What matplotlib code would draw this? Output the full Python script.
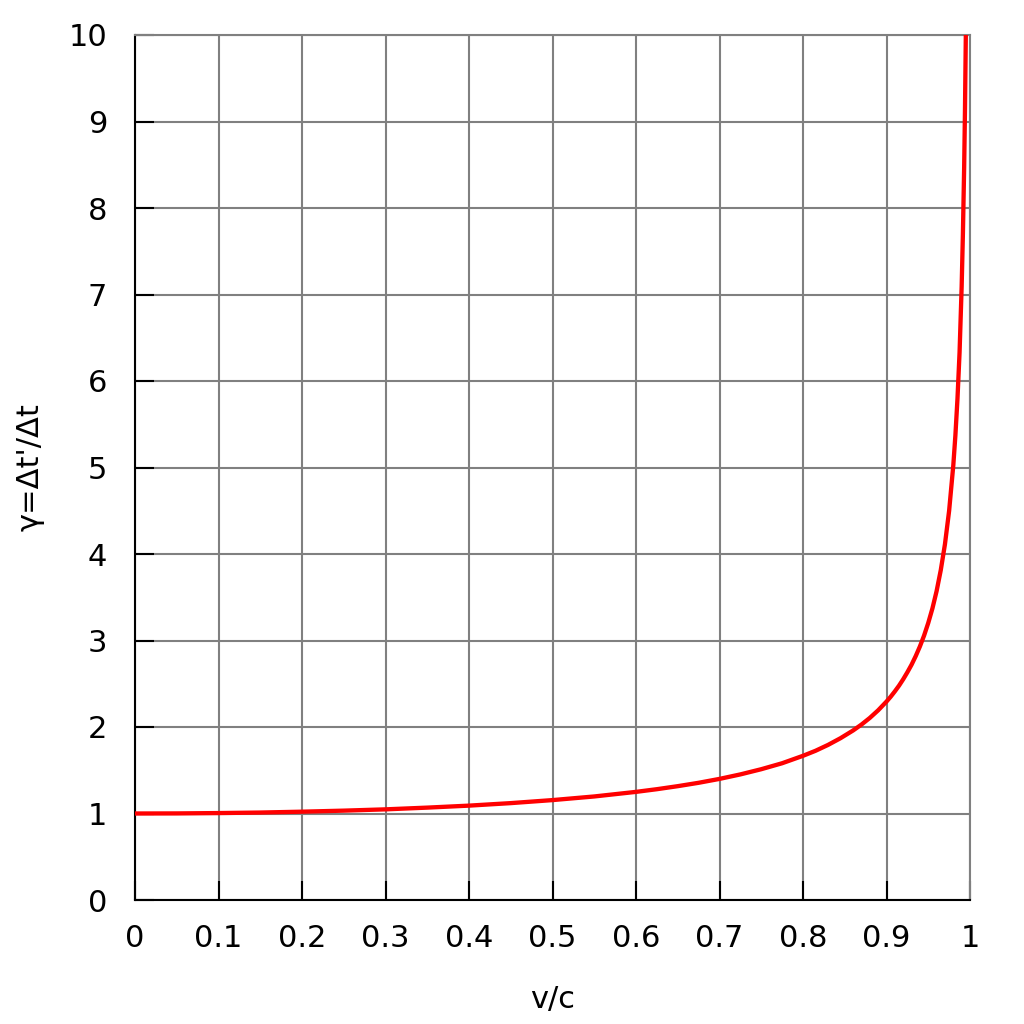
import numpy as np
import matplotlib.pyplot as plt

# points (v/c, gamma)
v = [0.0, 0.05, 0.1, 0.15, 0.2, 0.25, 0.3, 0.35, 0.4, 0.45, 0.5, 0.55,
     0.6, 0.625, 0.65, 0.675, 0.7, 0.725, 0.75, 0.775, 0.8, 0.815, 0.83,
     0.845, 0.86, 0.87, 0.88, 0.89, 0.9, 0.905, 0.91, 0.915, 0.92, 0.925,
     0.93, 0.935, 0.94, 0.945, 0.95, 0.955, 0.96, 0.965, 0.97, 0.975,
     0.98, 0.9825, 0.985, 0.9875, 0.99, 0.9915, 0.993, 0.994, 0.995]
gamma = [1.0, 1.001, 1.005, 1.011, 1.021, 1.033, 1.048, 1.068, 1.091, 1.12,
         1.155, 1.197, 1.25, 1.281, 1.316, 1.355, 1.40, 1.452, 1.512,
         1.581, 1.667, 1.725, 1.793, 1.871, 1.960, 2.028, 2.105, 2.193,
         2.294, 2.350, 2.412, 2.478, 2.552, 2.633, 2.72, 2.82, 2.931,
         3.057, 3.203, 3.371, 3.571, 3.814, 4.113, 4.5, 5.025, 5.37, 5.795,
         6.33, 7.089, 7.7, 8.472, 9.142, 10.0]

xticks = [0, 0.1, 0.2, 0.3, 0.4, 0.5, 0.6, 0.7, 0.8, 0.9, 1]
xlabels = ['0', '0.1', '0.2', '0.3', '0.4', '0.5', '0.6', '0.7', '0.8', '0.9', '1']
yticks = list(range(11))

fig = plt.figure(figsize=(10.24, 10.24), dpi=100)
ax = fig.add_axes([135/1024, 1 - 900/1024, 835/1024, 865/1024])

ax.plot(v, gamma, color='#ff0000', linewidth=3.1, zorder=3,
        solid_joinstyle='round')

ax.set_xlim(0, 1)
ax.set_ylim(0, 10)
ax.set_xticks(xticks)
ax.set_xticklabels(xlabels)
ax.set_yticks(yticks)
ax.grid(True, color='#808080', linewidth=1.5)

ax.tick_params(direction='in', length=14, width=1.5, labelsize=22,
               top=False, right=False)
ax.tick_params(axis='y', pad=20)
ax.tick_params(axis='x', pad=17)

for side in ['left', 'bottom']:
    ax.spines[side].set_color('black')
    ax.spines[side].set_linewidth(1.5)
for side in ['top', 'right']:
    ax.spines[side].set_color('#808080')
    ax.spines[side].set_linewidth(1.5)

ax.set_xlabel('v/c', fontsize=22, labelpad=23)
ax.set_ylabel("γ=Δt'/Δt", fontsize=22, labelpad=17)

fig.savefig('out.png', dpi=100)
